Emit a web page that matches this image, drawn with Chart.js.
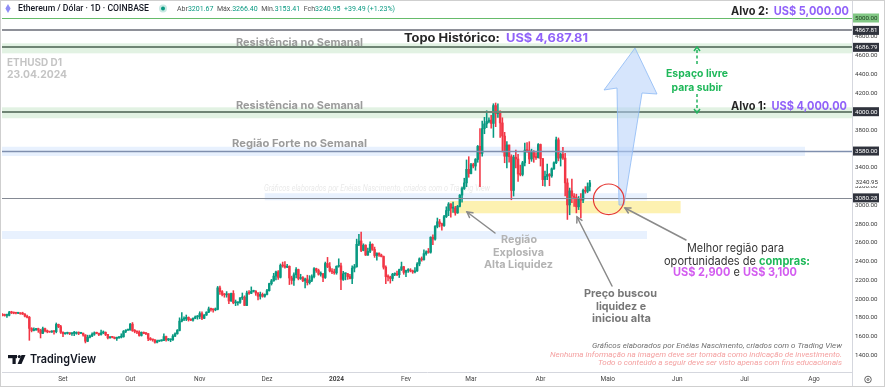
<!DOCTYPE html>
<html><head><meta charset="utf-8">
<script src="https://cdn.jsdelivr.net/npm/chart.js@4.4.1/dist/chart.umd.min.js"></script>
<style>html,body{margin:0;padding:0;background:#fff;overflow:hidden}canvas{display:block}</style>
</head><body>
<canvas id="c" width="886" height="387"></canvas>
<script>
// ---- DATA (ETH/USD daily, Coinbase) ----
// first candle: 5 Aug 2023; day numbers counted from 1 Sep 2023
const firstDay = -27;
const opens = [
 1835,1827,1825,1827,1856,1854,1850,1849,1852,1843,1840,1818,1806,1687,1665,1675,1685,1668,1634,1685,1661,1652,1648,1657,1653,1730,1706,
 1646,1630,1635,1637,1631,1634,1634,1646,1635,1636,1617,1550,1592,1606,1625,1640,1635,1622,1639,1645,1622,1586,1593,1592,1580,1588,1594,1598,1655,1668,
 1671,1733,1663,1656,1647,1612,1645,1633,1632,1580,1567,1565,1539,1552,1555,1557,1600,1565,1565,1565,1605,1630,1665,1765,1785,1790,1805,1780,1775,1795,1810,
 1815,1845,1795,1830,1860,1895,1890,1885,1890,2120,2080,2050,2045,2055,1980,2060,1960,1960,1965,2013,2020,1932,2065,2062,2082,2085,2065,2030,2050,2030,
 2050,2090,2165,2195,2245,2290,2232,2360,2355,2340,2350,2225,2200,2260,2315,2220,2230,2195,2215,2175,2200,2240,2325,2305,2265,2270,2230,2380,2345,2300,2290,
 2280,2350,2355,2210,2270,2270,2240,2220,2330,2345,2585,2620,2520,2575,2470,2510,2585,2530,2465,2490,2470,2455,2340,2240,2235,2220,2265,2270,2260,2315,2345,
 2285,2305,2310,2300,2290,2300,2375,2430,2420,2485,2505,2500,2660,2640,2775,2825,2805,2785,2880,2945,3015,2970,2970,2920,2990,3110,3180,3240,3385,
 3340,3435,3420,3490,3630,3555,3820,3870,3895,3910,3875,4065,3980,4005,3880,3740,3525,3645,3520,3160,3515,3495,3335,3330,3455,3590,3585,3495,3565,3515,3510,
 3650,3500,3275,3310,3330,3315,3390,3455,3700,3505,3545,3505,3240,3005,3155,3100,3085,2985,3065,3055,3160,3150,3201.67
];
const highs = [
 1845,1840,1840,1870,1870,1862,1857,1856,1855,1860,1846,1828,1815,1695,1692,1689,1690,1678,1700,1690,1670,1655,1663,1662,1745,1733,1720,
 1650,1640,1647,1640,1640,1655,1650,1650,1640,1637,1620,1615,1617,1640,1650,1647,1638,1670,1660,1650,1625,1600,1598,1597,1594,1600,1630,1665,1673,1680,
 1740,1750,1675,1660,1660,1650,1650,1640,1633,1590,1570,1568,1563,1560,1565,1630,1605,1580,1575,1620,1640,1675,1800,1855,1810,1830,1810,1790,1800,1820,1825,
 1865,1865,1835,1865,1915,1905,1895,1905,2135,2140,2090,2060,2080,2060,2065,2090,1990,1970,2015,2065,2035,2085,2090,2130,2095,2090,2070,2075,2065,2055,
 2105,2170,2210,2275,2300,2305,2375,2395,2400,2370,2355,2245,2280,2335,2320,2265,2240,2225,2255,2250,2260,2335,2330,2320,2290,2275,2395,2445,2390,2325,2320,
 2355,2430,2385,2295,2280,2275,2265,2355,2370,2640,2690,2715,2590,2580,2545,2610,2590,2555,2495,2495,2480,2460,2355,2260,2245,2275,2280,2300,2320,2395,2350,
 2310,2325,2325,2310,2335,2390,2440,2450,2525,2515,2540,2665,2685,2785,2865,2850,2810,2895,2985,3030,3020,3035,2990,3000,3115,3195,3290,3485,3520,
 3450,3450,3500,3640,3820,3900,3940,4010,3935,3960,4085,4093,4085,4010,3935,3780,3680,3645,3540,3535,3590,3545,3430,3470,3665,3670,3680,3600,3585,3565,3660,
 3655,3500,3365,3440,3340,3400,3465,3730,3720,3560,3620,3555,3285,3185,3280,3125,3120,3095,3125,3175,3200,3240,3266.40
];
const lows = [
 1820,1818,1805,1820,1845,1843,1843,1845,1838,1835,1810,1800,1560,1650,1660,1665,1645,1585,1630,1650,1640,1645,1645,1625,1640,1695,1633,
 1600,1625,1627,1620,1612,1610,1625,1620,1630,1605,1532,1545,1585,1600,1613,1630,1610,1615,1630,1610,1575,1582,1586,1575,1560,1580,1585,1593,1642,1665,
 1668,1655,1640,1630,1605,1605,1630,1620,1555,1560,1550,1530,1533,1547,1550,1555,1550,1555,1545,1560,1600,1625,1660,1755,1770,1770,1765,1770,1765,1790,1785,
 1790,1780,1790,1825,1855,1870,1860,1875,1885,2050,2035,2020,2020,1950,1975,1950,1930,1935,1955,1995,1930,1930,2050,2058,2075,2040,1990,2000,2020,2020,
 2045,2085,2150,2190,2205,2210,2225,2340,2330,2335,2155,2160,2145,2225,2205,2210,2185,2120,2150,2160,2185,2225,2285,2255,2245,2185,2220,2335,2290,2270,2265,
 2265,2340,2100,2200,2205,2210,2215,2165,2290,2340,2570,2505,2515,2465,2465,2495,2520,2445,2415,2455,2450,2320,2165,2195,2170,2195,2250,2250,2230,2305,2265,
 2240,2285,2290,2275,2280,2295,2355,2405,2415,2470,2490,2490,2580,2630,2760,2770,2735,2775,2870,2890,2875,2925,2895,2915,2985,3035,3170,3200,3300,
 3335,3400,3375,3460,3200,3525,3765,3830,3880,3825,3725,3840,3940,3725,3570,3455,3400,3460,3060,3100,3400,3255,3315,3315,3420,3565,3445,3470,3460,3490,3505,
 3420,3210,3205,3275,3210,3300,3385,3445,3475,3420,3490,3100,2850,2900,3030,2990,2920,2955,2865,3030,3130,3135,3153.41
];
const closes = [
 1827,1825,1827,1856,1854,1850,1849,1852,1843,1840,1818,1806,1687,1665,1675,1685,1668,1634,1685,1661,1652,1648,1657,1653,1730,1706,1646,
 1630,1635,1637,1631,1634,1634,1646,1635,1636,1617,1550,1592,1606,1625,1640,1635,1622,1639,1645,1622,1586,1593,1592,1580,1588,1594,1598,1655,1668,1671,
 1733,1663,1656,1647,1612,1645,1633,1632,1580,1567,1565,1539,1552,1555,1557,1600,1565,1565,1565,1605,1630,1665,1765,1785,1790,1805,1780,1775,1795,1810,1815,
 1845,1795,1830,1860,1895,1890,1885,1890,2120,2080,2050,2045,2055,1980,2060,1960,1960,1965,2013,2020,1932,2065,2062,2082,2085,2065,2030,2050,2030,2050,
 2090,2165,2195,2245,2290,2232,2360,2355,2340,2350,2225,2200,2260,2315,2220,2230,2195,2215,2175,2200,2240,2325,2305,2265,2270,2230,2380,2345,2300,2290,2280,
 2350,2355,2210,2270,2270,2240,2220,2330,2345,2585,2620,2520,2575,2470,2510,2585,2530,2465,2490,2470,2455,2340,2240,2235,2220,2265,2270,2260,2315,2345,2285,
 2305,2310,2300,2290,2300,2375,2430,2420,2485,2505,2500,2660,2640,2775,2825,2805,2785,2880,2945,3015,2970,2970,2920,2990,3110,3180,3240,3385,3340,
 3435,3420,3490,3630,3555,3820,3870,3895,3910,3875,4065,3980,4005,3880,3740,3525,3645,3520,3160,3515,3495,3335,3330,3455,3590,3585,3495,3565,3515,3510,3650,
 3500,3275,3310,3330,3315,3390,3455,3700,3505,3545,3505,3240,3005,3155,3100,3085,2985,3065,3055,3160,3150,3200,3240.95
];
const monthTickDays   = [0,30,61,91,122,153,182,213,243,274,304,335];
const monthTickLabels = ['Set','Out','Nov','Dez','2024','Fev','Mar','Abr','Maio','Jun','Jul','Ago'];
const priceTicks = [1400,1600,1800,2000,2200,2400,2600,2800,3000,3200,3400,3600,3800,4000,4200,4400,4600,4800,5000];
const xRange = [-27.2, 351.95];
const yRange = [1221.8, 5181.5];
// horizontal levels drawn on the chart
const levelValues = [5000, 4867.81, 4686.79, 4000, 3580, 3080.28];
const lastPrice = 3240.95;
// zones: low, high, from day (null = chart start), to day (null = chart end)
const zoneLow  = [4623, 3930, 3527, 3055, 2916, 2641];
const zoneHigh = [4730, 4047, 3626, 3130, 3047, 2727];
const zoneFrom = [null, null, null, 90, 172.6, null];
const zoneTo   = [null, null, 331, 260.5, 275.5, 260.5];

// ---- rendering ----
const UP = '#089981', DOWN = '#f23645';
const days = opens.map((_, i) => firstDay + i);
const candleColor = opens.map((o, i) => closes[i] >= o ? UP : DOWN);
const wickData = days.map((d, i) => ({x: d, y: [lows[i], highs[i]]}));
const bodyData = days.map((d, i) => ({x: d, y: [opens[i], closes[i]]}));

const zoneFill = ['rgba(76,175,80,0.16)','rgba(76,175,80,0.16)','rgba(33,120,243,0.10)','rgba(33,120,243,0.10)','rgba(250,220,60,0.40)','rgba(33,120,243,0.10)'];
const levelStyle = [['#66bb6a',1],['#8e9098',2],['#6f8474',2],['#6f8474',2],['#7f8fae',1.5],['#858a94',1]];

function txt(ctx, parts, x, y, w, align) {
  let nat = 0;
  parts.forEach(p => { ctx.font = p.f; p.w = ctx.measureText(p.t).width; nat += p.w; });
  const s = w ? w / nat : 1;
  const sx = align === 'center' ? x - nat * s / 2 : align === 'right' ? x - nat * s : x;
  ctx.save();
  ctx.textBaseline = 'middle'; ctx.textAlign = 'left';
  ctx.translate(sx, y); ctx.scale(s, 1);
  let cx = 0;
  parts.forEach(p => { ctx.font = p.f; ctx.fillStyle = p.c; ctx.fillText(p.t, cx, 0); cx += p.w; });
  ctx.restore();
}
function arrow(ctx, x1, y1, x2, y2, color, lw, head) {
  ctx.save();
  ctx.strokeStyle = color; ctx.lineWidth = lw; ctx.lineCap = 'round';
  ctx.beginPath(); ctx.moveTo(x1, y1); ctx.lineTo(x2, y2); ctx.stroke();
  const a = Math.atan2(y2 - y1, x2 - x1);
  ctx.beginPath();
  ctx.moveTo(x2 - head * Math.cos(a - 0.5), y2 - head * Math.sin(a - 0.5));
  ctx.lineTo(x2, y2);
  ctx.lineTo(x2 - head * Math.cos(a + 0.5), y2 - head * Math.sin(a + 0.5));
  ctx.stroke();
  ctx.restore();
}

const annotations = {
  id: 'annotations',
  beforeDatasetsDraw(chart) {
    const {ctx, chartArea: a, scales: {x, y}} = chart;
    ctx.save();
    ctx.beginPath(); ctx.rect(a.left, a.top, a.right - a.left, a.bottom - a.top); ctx.clip();
    zoneLow.forEach((lo, i) => {
      const x0 = zoneFrom[i] == null ? a.left : x.getPixelForValue(zoneFrom[i]);
      const x1 = zoneTo[i] == null ? a.right : x.getPixelForValue(zoneTo[i]);
      const y0 = y.getPixelForValue(zoneHigh[i]), y1 = y.getPixelForValue(lo);
      ctx.fillStyle = zoneFill[i];
      ctx.fillRect(x0, y0, x1 - x0, y1 - y0);
    });
    // faint watermark
    txt(ctx, [{t: 'Gráficos elaborados por Enéias Nascimento, criados com o Trading View', f: 'italic 9px Roboto', c: 'rgba(110,110,110,0.16)'}], 264, 189, 226, 'left');
    ctx.restore();
  },
  afterDatasetsDraw(chart) {
    const {ctx, chartArea: a, scales: {x, y}} = chart;
    ctx.save();
    levelValues.forEach((v, i) => {
      const py = Math.round(y.getPixelForValue(v)) + (levelStyle[i][1] % 2 ? 0.5 : 0);
      ctx.strokeStyle = levelStyle[i][0]; ctx.lineWidth = levelStyle[i][1];
      ctx.beginPath(); ctx.moveTo(a.left, py); ctx.lineTo(a.right, py); ctx.stroke();
    });
    // big blue arrow
    ctx.beginPath();
    ctx.moveTo(619, 205); ctx.lineTo(617, 88); ctx.lineTo(604, 90); ctx.lineTo(635, 48);
    ctx.lineTo(657, 94); ctx.lineTo(642, 93); ctx.lineTo(624, 205); ctx.closePath();
    ctx.fillStyle = 'rgba(180,208,250,0.55)'; ctx.fill();
    ctx.strokeStyle = 'rgba(140,185,245,0.8)'; ctx.lineWidth = 1; ctx.stroke();
    // red circle
    ctx.beginPath(); ctx.arc(608.7, 199.3, 15.3, 0, Math.PI * 2);
    ctx.strokeStyle = '#e53935'; ctx.lineWidth = 1.2; ctx.stroke();
    // grey pointer arrows
    arrow(ctx, 495, 233, 467, 212, '#8a8a8a', 1.5, 6);
    arrow(ctx, 612, 286, 577, 217, '#8a8a8a', 1.5, 6);
    arrow(ctx, 686, 240, 625, 208, '#8a8a8a', 1.5, 6);
    // green dashed double arrow
    ctx.strokeStyle = '#22b35e'; ctx.lineWidth = 1.5; ctx.setLineDash([3, 2.5]);
    ctx.beginPath(); ctx.moveTo(697, 50); ctx.lineTo(697, 66); ctx.moveTo(697, 94); ctx.lineTo(697, 111); ctx.stroke();
    ctx.setLineDash([]);
    ctx.beginPath(); ctx.moveTo(694, 51); ctx.lineTo(697, 47); ctx.lineTo(700, 51);
    ctx.moveTo(694, 109); ctx.lineTo(697, 113); ctx.lineTo(700, 109); ctx.stroke();
    ctx.restore();
  },
  afterDraw(chart) {
    const {ctx, chartArea: a, scales: {x, y}} = chart;
    const B = 'bold 11px Inter', DARK = '#262626', PURP = '#9061f9', GREEN = '#1fb85a', MAG = '#d35cf0';
    // header
    ctx.save();
    ctx.fillStyle = '#8e8df5';
    ctx.beginPath(); ctx.moveTo(8, 4); ctx.lineTo(10.6, 8.5); ctx.lineTo(8, 13); ctx.lineTo(5.4, 8.5); ctx.closePath(); ctx.fill();
    ctx.fillStyle = 'rgba(8,153,129,0.22)'; ctx.beginPath(); ctx.arc(163, 8.5, 4, 0, 7); ctx.fill();
    ctx.fillStyle = UP; ctx.beginPath(); ctx.arc(163, 8.5, 2, 0, 7); ctx.fill();
    ctx.restore();
    txt(ctx, [{t: 'Ethereum / Dólar · 1D · COINBASE', f: '500 9.5px Roboto', c: '#131722'}], 18, 8.5, 131, 'left');
    const L = '7.5px Roboto', G = '#4f4f4f';
    txt(ctx, [
      {t: 'Abr', f: L, c: G}, {t: '3201.67', f: L, c: UP},
      {t: '  Máx.', f: L, c: G}, {t: '3266.40', f: L, c: UP},
      {t: '  Mín.', f: L, c: G}, {t: '3153.41', f: L, c: UP},
      {t: '  Fch', f: L, c: G}, {t: '3240.95', f: L, c: UP},
      {t: '  +39.49 (+1.23%)', f: L, c: UP}], 177, 9, 218, 'left');
    // right-side targets
    txt(ctx, [{t: 'Alvo 2:  ', f: 'bold 11.5px Inter', c: DARK}, {t: 'US$ 5,000.00', f: 'bold 11.5px Inter', c: PURP}], 731, 12, 118, 'left');
    txt(ctx, [{t: 'Topo Histórico:  ', f: 'bold 11.5px Inter', c: DARK}, {t: 'US$ 4,687.81', f: 'bold 11.5px Inter', c: PURP}], 404, 39, 184, 'left');
    txt(ctx, [{t: 'Alvo 1:  ', f: 'bold 11.5px Inter', c: DARK}, {t: 'US$ 4,000.00', f: 'bold 11.5px Inter', c: PURP}], 731, 106.5, 116, 'left');
    // zone names
    const GR = '#9b9b9b';
    txt(ctx, [{t: 'Resistência no Semanal', f: B, c: GR}], 236, 42.5, 127, 'left');
    txt(ctx, [{t: 'Resistência no Semanal', f: B, c: GR}], 236, 105.5, 127, 'left');
    txt(ctx, [{t: 'Região Forte no Semanal', f: B, c: GR}], 232, 143.5, 135, 'left');
    // symbol watermark
    txt(ctx, [{t: 'ETHUSD D1', f: 'bold 10px Inter', c: '#c4c4c4'}], 7, 63, 55, 'left');
    txt(ctx, [{t: '23.04.2024', f: 'bold 10px Inter', c: '#c4c4c4'}], 7, 75, 60, 'left');
    // green text
    txt(ctx, [{t: 'Espaço livre', f: 'bold 10.5px Inter', c: GREEN}], 697, 74, 62, 'center');
    txt(ctx, [{t: 'para subir', f: 'bold 10.5px Inter', c: GREEN}], 697, 87.5, 51, 'center');
    // explanation texts
    const LG = '#b3b3b3';
    txt(ctx, [{t: 'Região', f: B, c: LG}], 519, 240, 36, 'center');
    txt(ctx, [{t: 'Explosiva', f: B, c: LG}], 518.5, 253, 51, 'center');
    txt(ctx, [{t: 'Alta Liquidez', f: B, c: LG}], 518.5, 265, 69, 'center');
    const MG = '#777777';
    txt(ctx, [{t: 'Preço buscou', f: B, c: MG}], 620.5, 294, 73, 'center');
    txt(ctx, [{t: 'liquidez e', f: B, c: MG}], 621, 307, 50, 'center');
    txt(ctx, [{t: 'iniciou alta', f: B, c: MG}], 621.5, 319, 59, 'center');
    const R = '11.5px Inter', RB = 'bold 11.5px Inter';
    txt(ctx, [{t: 'Melhor região para', f: R, c: '#333'}], 735.5, 249, 97, 'center');
    txt(ctx, [{t: 'oportunidades de ', f: R, c: '#333'}, {t: 'compras:', f: RB, c: GREEN}], 737, 261.5, 146, 'center');
    txt(ctx, [{t: 'US$ 2,900', f: RB, c: MAG}, {t: ' e ', f: R, c: '#333'}, {t: 'US$ 3,100', f: RB, c: MAG}], 735, 273, 124, 'center');
    // footer
    txt(ctx, [{t: 'Gráficos elaborados por Enéias Nascimento, criados com o Trading View', f: 'italic 8px Roboto', c: '#6f6f6f'}], 842, 346, 250, 'right');
    txt(ctx, [{t: 'Nenhuma informação na imagem deve ser tomada como indicação de investimento.', f: 'italic 8px Roboto', c: '#f4a0a0'}], 842, 355, 292, 'right');
    txt(ctx, [{t: 'Todo o conteúdo a seguir deve ser visto apenas com fins educacionais', f: 'italic 8px Roboto', c: '#f4a0a0'}], 842, 363.3, 244, 'right');
    // TradingView logo
    ctx.save();
    ctx.fillStyle = '#131722';
    ctx.fillRect(8, 355, 9, 3.2); ctx.fillRect(12.5, 355, 3.2, 9);
    ctx.beginPath(); ctx.arc(19.3, 356.6, 1.6, 0, 7); ctx.fill();
    ctx.beginPath(); ctx.moveTo(21.5, 355); ctx.lineTo(25.5, 355); ctx.lineTo(21.5, 364); ctx.lineTo(17.6, 364); ctx.closePath(); ctx.fill();
    ctx.restore();
    txt(ctx, [{t: 'TradingView', f: '600 12px Inter', c: '#131722'}], 30, 359.5, 66, 'left');
    // axis label boxes
    ctx.save();
    ctx.font = '6.2px Roboto'; ctx.textBaseline = 'middle'; ctx.textAlign = 'left';
    const lp = y.getPixelForValue(lastPrice);
    ctx.fillStyle = '#ffffff'; ctx.fillRect(853, lp - 3.8, 28, 7);
    ctx.fillStyle = '#333'; ctx.fillText(lastPrice.toFixed(2), 855.5, lp);
    levelValues.forEach((v, i) => {
      const py = y.getPixelForValue(v);
      ctx.fillStyle = i === 0 ? '#81c784' : '#30333d';
      ctx.fillRect(853, py - 4.5, 26, 9);
      ctx.fillStyle = i === 0 ? '#1b3a1d' : '#ffffff';
      ctx.fillText(v.toFixed(2), 855, py + 0.3);
    });
    // axis corner pieces
    ctx.strokeStyle = '#d5d7de'; ctx.lineWidth = 1;
    ctx.beginPath(); ctx.moveTo(852.5, a.bottom); ctx.lineTo(852.5, 387); ctx.stroke();
    ctx.strokeStyle = '#666'; ctx.beginPath(); ctx.arc(868, 379.5, 3.3, 0, 7); ctx.stroke();
    ctx.beginPath(); ctx.arc(868, 379.5, 1, 0, 7); ctx.stroke();
    ctx.strokeStyle = '#cfcfcf'; ctx.strokeRect(0.5, 0.5, 884, 386);
    ctx.restore();
  }
};

new Chart(document.getElementById('c'), {
  type: 'bar',
  data: {
    datasets: [
      {data: wickData, backgroundColor: candleColor, barThickness: 0.9, grouped: false, order: 2},
      {data: bodyData, backgroundColor: candleColor, barThickness: 1.8, minBarLength: 1, grouped: false, order: 1}
    ]
  },
  options: {
    responsive: false, animation: false, devicePixelRatio: 1,
    layout: {padding: {left: 2, top: 1, right: 0, bottom: 0}},
    plugins: {legend: {display: false}, tooltip: {enabled: false}},
    scales: {
      x: {
        type: 'linear', offset: false, min: xRange[0], max: xRange[1],
        grid: {display: false, drawTicks: false},
        border: {display: true, color: '#d5d7de'},
        afterBuildTicks: s => { s.ticks = monthTickDays.map(v => ({value: v})); },
        afterFit: s => { s.height = 15; s.paddingLeft = 0; s.paddingRight = 0; },
        ticks: {
          autoSkip: false, maxRotation: 0, padding: 3, color: '#444',
          font: c => ({family: 'Roboto', size: 6.5, weight: c.tick && c.tick.value === 122 ? 'bold' : 'normal'}),
          callback: v => monthTickLabels[monthTickDays.indexOf(v)]
        }
      },
      y: {
        type: 'linear', position: 'right', min: yRange[0], max: yRange[1],
        grid: {display: false, drawTicks: false},
        border: {display: true, color: '#d5d7de'},
        afterBuildTicks: s => { s.ticks = priceTicks.map(v => ({value: v})); },
        afterFit: s => { s.width = 34; s.paddingTop = 0; s.paddingBottom = 0; },
        ticks: {autoSkip: false, padding: 3, color: '#3a3a3a', font: {family: 'Roboto', size: 6.2},
          callback: v => v.toFixed(2)}
      }
    }
  },
  plugins: [annotations]
});
</script>
</body></html>
